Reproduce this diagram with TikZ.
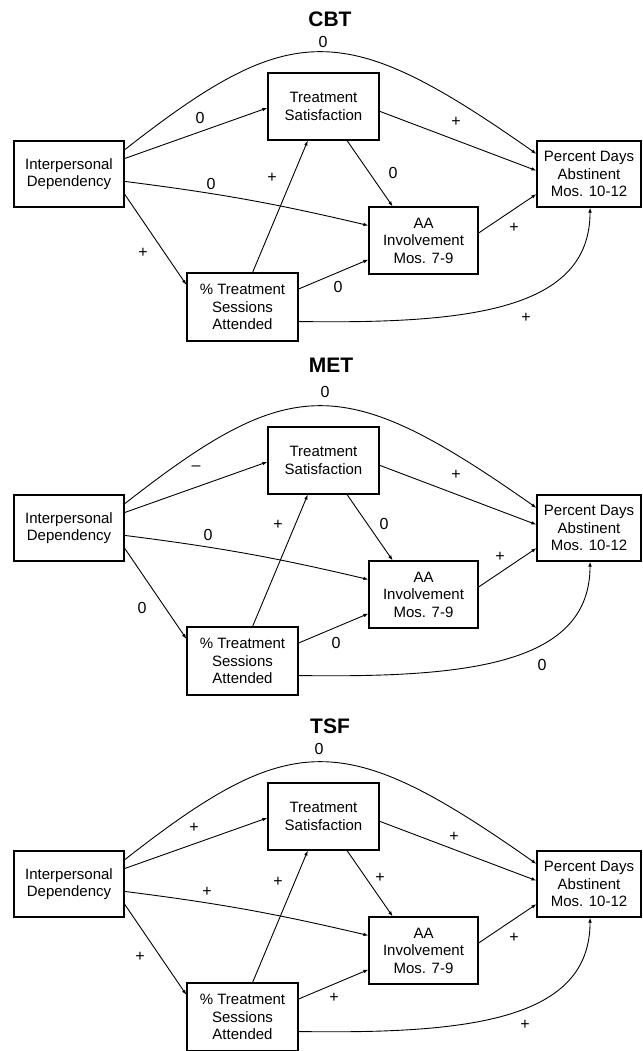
\documentclass[tikz,border=0pt]{standalone}
\usepackage{fontspec}
\setmainfont{Liberation Sans}
\usetikzlibrary{calc,arrows.meta}
\tikzset{
 box/.style={draw, line width=1.2pt, rectangle, inner sep=0pt, align=center, font=\fontsize{15}{17.5}\selectfont},
 link/.style={line width=0.9pt, -{Latex[length=5pt,width=3.6pt]}},
 lbl/.style={font=\fontsize{16}{16}\selectfont, inner sep=0pt},
 ttl/.style={font=\bfseries\fontsize{21}{21}\selectfont, inner sep=0pt},
}
\newcommand\drawpanel[2]{%
\begin{scope}[yshift=#2]
 \node[box, minimum width=110pt, minimum height=66pt] (#1ID) at (69,174) {Interpersonal\\Dependency};
 \node[box, minimum width=111pt, minimum height=67pt] (#1TS) at (323.5,106.5) {Treatment\\Satisfaction};
 \node[box, minimum width=104pt, minimum height=66pt] (#1PD) at (589,174) {Percent Days\\Abstinent\\Mos. 10-12};
 \node[box, minimum width=109pt, minimum height=67pt] (#1AA) at (423.5,240.5) {AA\\Involvement\\Mos. 7-9};
 \node[box, minimum width=111pt, minimum height=68pt] (#1SE) at (242.5,307) {\%~Treatment\\Sessions\\Attended};
 % top arc ID -> PD
 \draw[link] ($(#1ID.north east)!0.14!(#1ID.south east)$) .. controls (292,18.7) and (344,18.7) .. ($(#1PD.north west)!0.2!(#1PD.south west)$);
 % ID -> TS
 \draw[link] ($(#1ID.north east)!0.27!(#1ID.south east)$) -- ($(#1TS.north west)!0.52!(#1TS.south west)$);
 % ID -> AA
 \draw[link] ($(#1ID.north east)!0.61!(#1ID.south east)$) to[bend left=3] ($(#1AA.north west)!0.28!(#1AA.south west)$);
 % ID -> SE
 \draw[link] ($(#1ID.north east)!0.80!(#1ID.south east)$) -- ($(#1SE.north west)!0.18!(#1SE.south west)$);
 % SE -> TS
 \draw[link] ($(#1SE.north west)!0.59!(#1SE.north east)$) -- ($(#1TS.south west)!0.36!(#1TS.south east)$);
 % TS -> PD
 \draw[link] ($(#1TS.north east)!0.57!(#1TS.south east)$) -- ($(#1PD.north west)!0.45!(#1PD.south west)$);
 % TS -> AA
 \draw[link] ($(#1TS.south west)!0.71!(#1TS.south east)$) -- ($(#1AA.north west)!0.22!(#1AA.north east)$);
 % AA -> PD
 \draw[link] ($(#1AA.north east)!0.39!(#1AA.south east)$) -- ($(#1PD.north west)!0.80!(#1PD.south west)$);
 % SE -> AA
 \draw[link] ($(#1SE.north east)!0.24!(#1SE.south east)$) -- ($(#1AA.north west)!0.78!(#1AA.south west)$);
 % SE -> PD
 \draw[link] ($(#1SE.north east)!0.71!(#1SE.south east)$) .. controls (470,324) and (590,310) .. ($(#1PD.south west)!0.51!(#1PD.south east)$);
\end{scope}}
\begin{document}
\begin{tikzpicture}[x=1pt,y=-1pt]
\useasboundingbox (0,0) rectangle (642,1051);
\fill[white] (0,0) rectangle (642,1051);
% ---------- CBT ----------
\node[ttl] (cbtT) at (330,19) {CBT};
\drawpanel{cbt}{0pt}
\node[lbl] (cbtL1) at (323,42) {0};
\node[lbl] (cbtL2) at (200,118) {0};
\node[lbl] (cbtL3) at (211,184) {0};
\node[lbl] (cbtL4) at (143,253) {+};
\node[lbl] (cbtL5) at (272,178) {+};
\node[lbl] (cbtL6) at (393,173) {0};
\node[lbl] (cbtL7) at (456,122) {+};
\node[lbl] (cbtL8) at (514,228) {+};
\node[lbl] (cbtL9) at (338,287) {0};
\node[lbl] (cbtL10) at (526,318) {+};
% ---------- MET ----------
\node[ttl] (metT) at (331,365) {MET};
\drawpanel{met}{-354pt}
\node[lbl] (metL1) at (325,392) {0};
\node[lbl] (metL2) at (196,468) {--};
\node[lbl] (metL3) at (208,535) {0};
\node[lbl] (metL4) at (142,608) {0};
\node[lbl] (metL5) at (278,525) {+};
\node[lbl] (metL6) at (384,524) {0};
\node[lbl] (metL7) at (456,475) {+};
\node[lbl] (metL8) at (500,557) {+};
\node[lbl] (metL9) at (336,643) {0};
\node[lbl] (metL10) at (542,665) {0};
% ---------- TSF ----------
\node[ttl] (tsfT) at (330,726) {TSF};
\drawpanel{tsf}{-710pt}
\node[lbl] (tsfL1) at (319,749) {0};
\node[lbl] (tsfL2) at (194,828) {+};
\node[lbl] (tsfL3) at (207,892) {+};
\node[lbl] (tsfL4) at (140,957) {+};
\node[lbl] (tsfL5) at (278,882) {+};
\node[lbl] (tsfL6) at (380,878) {+};
\node[lbl] (tsfL7) at (454,837) {+};
\node[lbl] (tsfL8) at (514,938) {+};
\node[lbl] (tsfL9) at (334,998) {+};
\node[lbl] (tsfL10) at (525,1025) {+};
\end{tikzpicture}
\end{document}
